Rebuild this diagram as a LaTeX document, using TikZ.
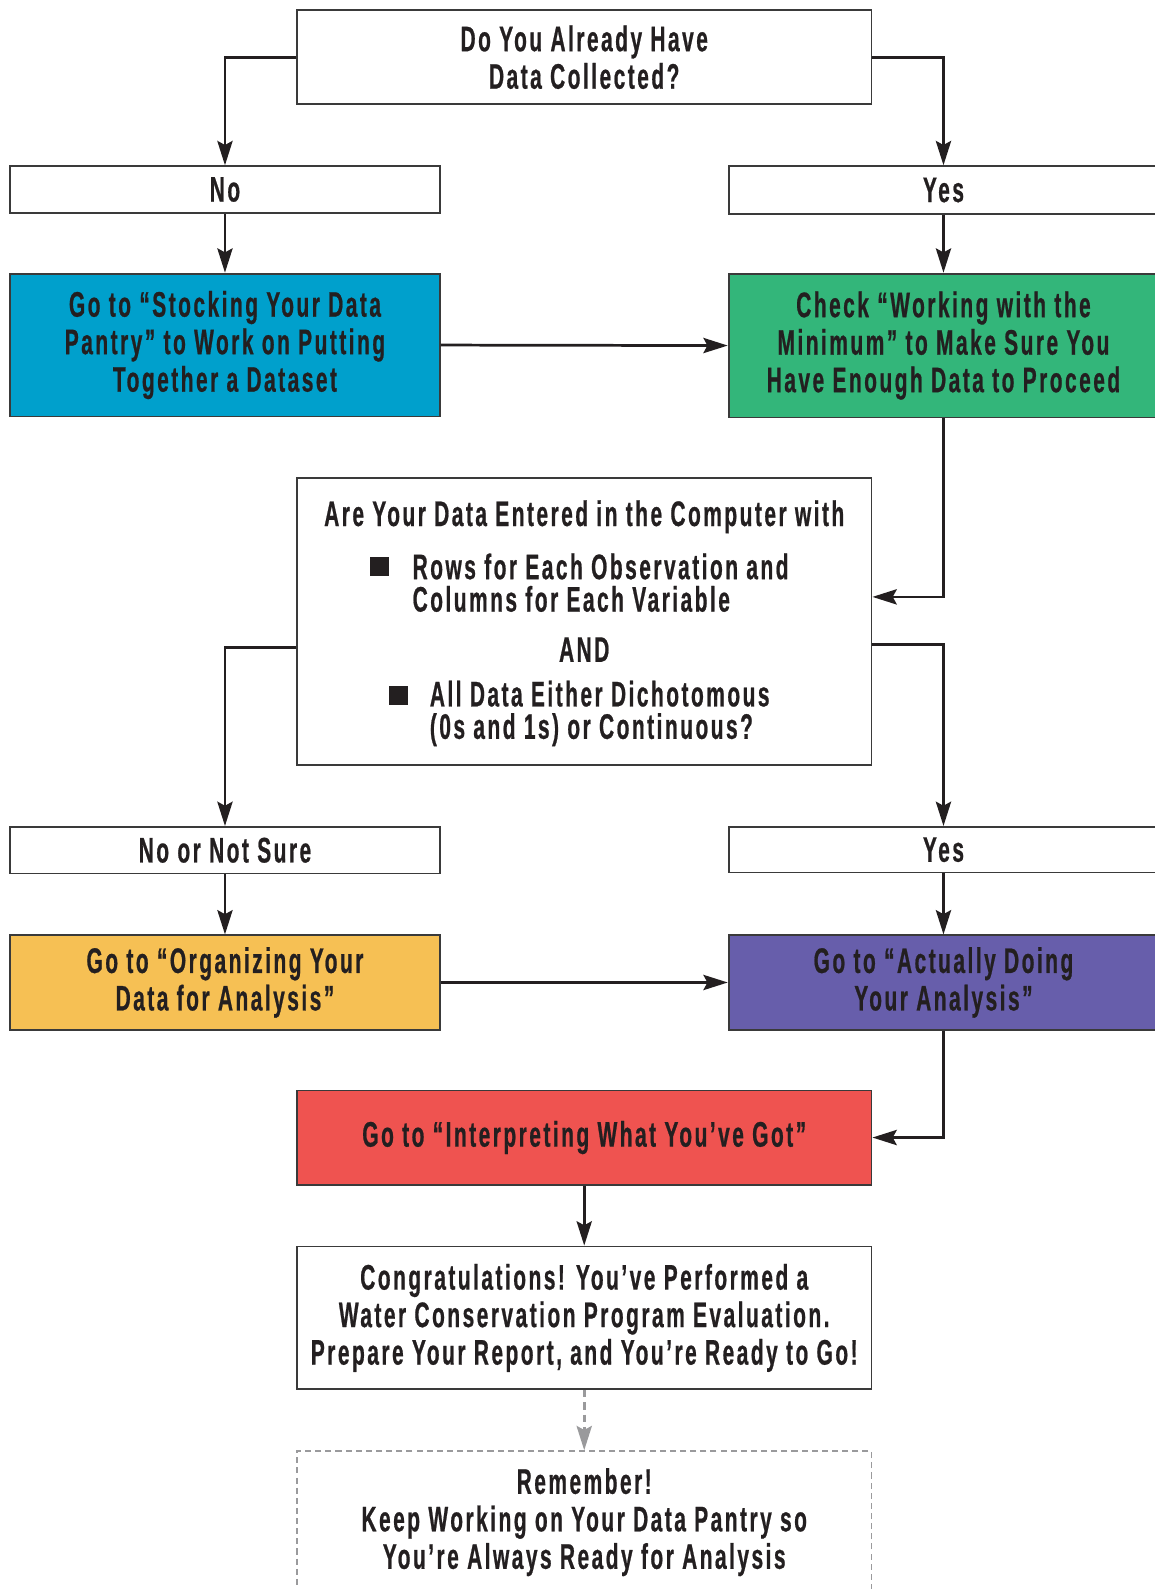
\documentclass[tikz,border=0pt]{standalone}
\usepackage{fontspec}
\newfontfamily\cf{Liberation Sans}[FakeStretch=0.59,LetterSpace=7,FakeBold=0.6]
\usetikzlibrary{arrows.meta}
\definecolor{txt}{HTML}{231F20}
\definecolor{edge}{HTML}{3A3A3A}
\definecolor{cblue}{HTML}{00A0CC}
\definecolor{cgreen}{HTML}{33B67A}
\definecolor{cyellow}{HTML}{F6C054}
\definecolor{cpurple}{HTML}{675EAB}
\definecolor{cred}{HTML}{EF5350}
\definecolor{dgray}{HTML}{9A9A9C}
\begin{document}
\begin{tikzpicture}[x=1pt,y=-1pt,
  lbl/.style={font=\cf\bfseries\fontsize{35}{37}\selectfont, text=txt, align=center, inner sep=0pt},
  box/.style={lbl, draw=edge, line width=1.8pt, minimum width=424pt, minimum height=46pt},
  wbox/.style={box, minimum width=567pt},
  arr/.style={draw=txt, line width=2.7pt, -{Stealth[length=24pt,width=15pt,inset=4pt]}},
  darr/.style={draw=dgray, line width=2.7pt, dash pattern=on 7pt off 5pt, -{Stealth[length=24pt,width=15pt,inset=4pt]}},
  sq/.style={fill=txt, minimum size=19pt, inner sep=0pt}
]
\useasboundingbox (0,0) rectangle (1139,1568);
\node[wbox, minimum height=93pt] (q1) at (576.5,56.5) {Do You Already Have\\Data Collected?};
\node[box] (no1) at (222,187) {No};
\node[box, minimum height=47pt] (yes1) at (931,187.5) {Yes};
\node[box, fill=cblue, minimum height=141pt] (blue) at (222,340.5) {Go to “Stocking Your Data\\Pantry” to Work on Putting\\Together a Dataset};
\node[box, fill=cgreen, minimum height=142pt] (green) at (931,341) {Check “Working with the\\Minimum” to Make Sure You\\Have Enough Data to Proceed};
\node[wbox, minimum height=283pt] (q2) at (576.5,613.5) {};
\node[lbl] (q2a) at (576.5,510) {Are Your Data Entered in the Computer with};
\node[sq] (sq1) at (374.5,559) {};
\node[lbl, align=left, anchor=west, font=\cf\bfseries\fontsize{35}{32}\selectfont] (q2b) at (407,575) {Rows for Each Observation and\\Columns for Each Variable};
\node[lbl] (q2c) at (576.5,641) {AND};
\node[sq] (sq2) at (393.5,686) {};
\node[lbl, align=left, anchor=west, font=\cf\bfseries\fontsize{35}{32}\selectfont] (q2d) at (424,704) {All Data Either Dichotomous\\(0s and 1s) or Continuous?};
\node[box] (no2) at (222,839) {No or Not Sure};
\node[box, minimum height=45pt] (yes2) at (931,838.5) {Yes};
\node[box, fill=cyellow, minimum height=93pt] (yellow) at (222,969.5) {Go to “Organizing Your\\Data for Analysis”};
\node[box, fill=cpurple, minimum height=93pt] (purple) at (931,969.5) {Go to “Actually Doing\\Your Analysis”};
\node[wbox, fill=cred, minimum height=93pt] (red) at (576.5,1122.5) {Go to “Interpreting What You’ve Got”};
\node[wbox, minimum height=141pt] (cong) at (576.5,1300.5) {Congratulations! You’ve Performed a\\Water Conservation Program Evaluation.\\Prepare Your Report, and You’re Ready to Go!};
\node[wbox, draw=dgray, dash pattern=on 6pt off 4pt, minimum height=140pt] (rem) at (576.5,1502) {Remember!\\Keep Working on Your Data Pantry so\\You’re Always Ready for Analysis};
\draw[arr] (q1.west) -| (no1.north);
\draw[arr] (q1.east) -| (yes1.north);
\draw[arr] (no1.south) -- (blue.north);
\draw[arr] (yes1.south) -- (green.north);
\draw[arr] (blue.east) -- (green.west);
\draw[arr] (green.south) |- ([yshift=24.5pt]q2.east);
\draw[arr] ([yshift=-25.5pt]q2.west) -| (no2.north);
\draw[arr] ([yshift=-22.5pt]q2.east) -| (yes2.north);
\draw[arr] (no2.south) -- (yellow.north);
\draw[arr] (yes2.south) -- (purple.north);
\draw[arr] (yellow.east) -- (purple.west);
\draw[arr] (purple.south) |- (red.east);
\draw[arr] (red.south) -- (cong.north);
\draw[darr] (cong.south) -- (rem.north);
\end{tikzpicture}
\end{document}
